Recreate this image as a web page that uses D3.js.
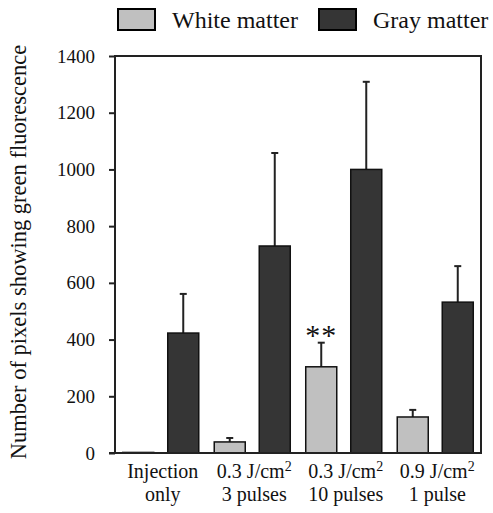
<!DOCTYPE html>
<html>
<head>
<meta charset="utf-8">
<script src="https://cdn.jsdelivr.net/npm/d3@7"></script>
</head>
<body style="margin:0">
<svg id="chart" width="493" height="513"></svg>
<script>
// ---- data ----
const groups = ["Injection only", "0.3 J/cm2 3 pulses", "0.3 J/cm2 10 pulses", "0.9 J/cm2 1 pulse"];
const groupLine1 = ["Injection", "0.3 J/cm", "0.3 J/cm", "0.9 J/cm"];
const groupSup = ["", "2", "2", "2"];
const groupLine2 = ["only", "3 pulses", "10 pulses", "1 pulse"];
const seriesNames = ["White matter", "Gray matter"];
const whiteMatter = [2, 39, 304, 127];
const whiteErr = [0, 14, 85, 25];
const grayMatter = [423, 730, 1000, 532];
const grayErr = [138, 328, 309, 127];
const yTicks = [0, 200, 400, 600, 800, 1000, 1200, 1400];
const significance = ["", "", "**", ""];

const colors = { "White matter": "#c0c0c0", "Gray matter": "#353535" };
const fontStyle = size => `font-family: "Liberation Serif", "Times New Roman", Tinos, Times !important; font-size: ${size}px;`;

const svg = d3.select("#chart").attr("style", fontStyle(20));
const mLeft = 115, mRight = 481, mTop = 56, mBottom = 453;

const x0 = d3.scaleBand().domain(groups).range([mLeft, mRight]).paddingInner(0).paddingOuter(0);
const x1 = d3.scaleBand().domain(seriesNames).range([0, x0.bandwidth()]).paddingInner(0.311).paddingOuter(0.172);
const y = d3.scaleLinear().domain([0, 1400]).range([mBottom, mTop]);

const data = [];
groups.forEach((g, i) => {
  data.push({ g, s: "White matter", v: whiteMatter[i], e: whiteErr[i] });
  data.push({ g, s: "Gray matter", v: grayMatter[i], e: grayErr[i] });
});

// frame top & right
svg.append("line").attr("x1", mLeft).attr("x2", mRight).attr("y1", mTop).attr("y2", mTop)
  .attr("stroke", "#222").attr("stroke-width", 2);
svg.append("line").attr("x1", mRight).attr("x2", mRight).attr("y1", mTop - 1).attr("y2", mBottom)
  .attr("stroke", "#222").attr("stroke-width", 2);

// error bars (upward)
const eb = svg.append("g");
data.filter(d => d.e > 0).forEach(d => {
  const cx = x0(d.g) + x1(d.s) + x1.bandwidth() / 2;
  eb.append("line").attr("x1", cx).attr("x2", cx).attr("y1", y(d.v)).attr("y2", y(d.v + d.e))
    .attr("stroke", "#222").attr("stroke-width", 2);
  eb.append("line").attr("x1", cx - 3.5).attr("x2", cx + 3.5).attr("y1", y(d.v + d.e)).attr("y2", y(d.v + d.e))
    .attr("stroke", "#222").attr("stroke-width", 2);
});

// bars
svg.append("g").selectAll("rect").data(data).join("rect")
  .attr("x", d => x0(d.g) + x1(d.s))
  .attr("y", d => y(d.v))
  .attr("width", x1.bandwidth())
  .attr("height", d => y(0) - y(d.v))
  .attr("fill", d => colors[d.s])
  .attr("stroke", "#111")
  .attr("stroke-width", 1.5);

// significance
groups.forEach((g, i) => {
  if (!significance[i]) return;
  svg.append("text")
    .attr("x", x0(g) + x1("White matter") + x1.bandwidth() / 2)
    .attr("y", y(whiteMatter[i] + whiteErr[i]) + 2)
    .attr("text-anchor", "middle")
    .attr("style", fontStyle(30))
    .attr("letter-spacing", 1)
    .attr("fill", "#111")
    .text(significance[i]);
});

// y axis
const yAxis = svg.append("g").attr("transform", `translate(${mLeft},0)`)
  .call(d3.axisLeft(y).tickValues(yTicks).tickSize(6).tickPadding(14).tickFormat(d3.format("d")));
yAxis.attr("font-family", null).attr("font-size", null);
yAxis.select(".domain").attr("stroke", "#222").attr("stroke-width", 2).attr("d", `M0,${mTop - 1}V${mBottom}`);
yAxis.selectAll(".tick line").attr("stroke", "#222").attr("stroke-width", 2);
yAxis.selectAll(".tick text").attr("style", fontStyle(19)).attr("fill", "#111");

// x axis
const xAxis = svg.append("g").attr("transform", `translate(0,${mBottom})`)
  .call(d3.axisBottom(x0).tickSize(0).tickFormat(""));
xAxis.select(".domain").attr("stroke", "#222").attr("stroke-width", 2).attr("d", `M${mLeft - 6},0H${mRight + 1}`);

// x labels
groups.forEach((g, i) => {
  const cx = x0(g) + x0.bandwidth() / 2 + 2;
  const t1 = svg.append("text").attr("x", cx).attr("y", 478).attr("text-anchor", "middle")
    .attr("style", fontStyle(20)).attr("fill", "#111");
  t1.append("tspan").text(groupLine1[i]);
  if (groupSup[i]) t1.append("tspan").attr("dy", -7).attr("style", fontStyle(14)).text(groupSup[i]);
  svg.append("text").attr("x", cx).attr("y", 501).attr("text-anchor", "middle")
    .attr("style", fontStyle(20)).attr("fill", "#111").text(groupLine2[i]);
});

// y title
svg.append("text")
  .attr("transform", `translate(26,${252}) rotate(-90)`)
  .attr("text-anchor", "middle")
  .attr("style", fontStyle(22.5))
  .attr("fill", "#111")
  .text("Number of pixels showing green fluorescence");

// legend
const legendX = [118, 319];
seriesNames.forEach((s, i) => {
  svg.append("rect").attr("x", legendX[i]).attr("y", 9).attr("width", 37).attr("height", 21)
    .attr("fill", colors[s]).attr("stroke", "#000").attr("stroke-width", 2);
  svg.append("text").attr("x", legendX[i] + 54).attr("y", 28)
    .attr("style", fontStyle(24))
    .attr("fill", "#111").text(s);
});
</script>
</body>
</html>
